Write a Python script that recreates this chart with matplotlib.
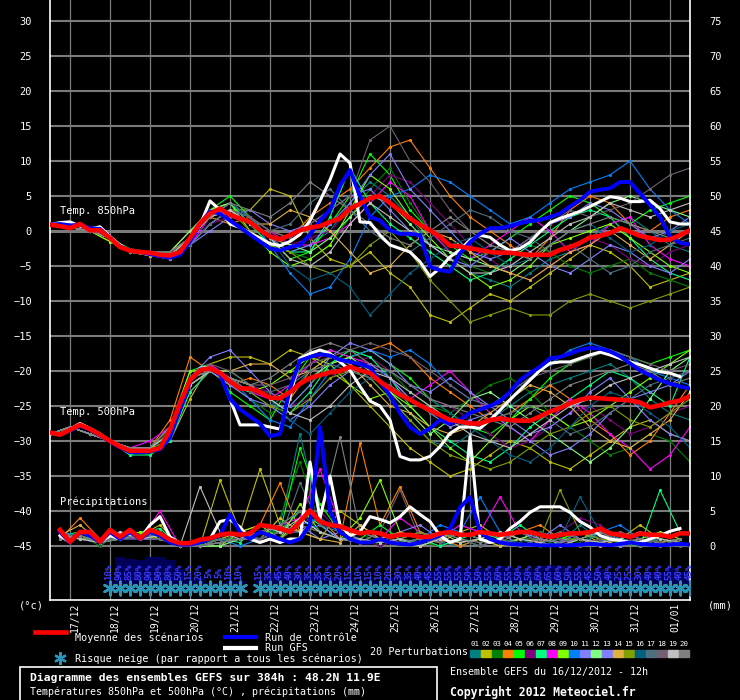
import matplotlib
matplotlib.use('Agg')
import matplotlib.pyplot as plt
from matplotlib.lines import Line2D
from matplotlib.patches import Rectangle
import numpy as np

nan = float('nan')

# ---------------- data ----------------
dates = ['17/12', '18/12', '19/12', '20/12', '21/12', '22/12', '23/12', '24/12',
         '25/12', '26/12', '27/12', '28/12', '29/12', '30/12', '31/12', '01/01']

member_colors = ['#008080', '#c0c000', '#008000', '#ff8000', '#00ff00', '#800080', '#00ff80',
                 '#ff00ff', '#80ff00', '#0080ff', '#8080ff', '#80ff80', '#8080ff', '#e0b040',
                 '#80a000', '#006080', '#507080', '#706070', '#c0c0c0', '#808080']

# 6-hourly series (0h .. 384h)
mean_850 = [0.9, 0.7, 0.4, 1.0, 0.1, 0.1, -1.0, -2.3, -2.8, -3.0,
            -3.1, -3.4, -3.5, -3.0, -1.0, 1.1, 2.5, 3.2, 2.3, 1.8,
            1.3, 0.1, -0.8, -1.2, -0.6, 0.1, 0.5, 0.7, 1.3, 1.8,
            3.2, 3.9, 4.7, 5.0, 4.0, 2.9, 1.8, 0.9, 0.1, -0.8,
            -2.1, -2.2, -2.5, -2.7, -3.0, -3.1, -3.1, -3.3, -3.4, -3.4,
            -3.4, -2.7, -2.3, -1.7, -0.9, -0.7, -0.3, 0.4, -0.1, -0.7,
            -1.0, -1.3, -1.2, -0.6, 0.1]
gfs_850 = [0.9, 1.2, 1.3, 0.7, 0.3, 0.6, -0.8, -2.0, -2.8, -3.0,
           -3.2, -3.5, -3.6, -3.2, -1.5, 0.8, 4.3, 3.0, 1.0, 0.5,
           -0.3, -1.0, -1.8, -2.1, -1.5, -0.5, 1.5, 4.3, 7.3, 11.0,
           9.7, 1.3, 1.2, -0.6, -2.0, -2.5, -3.0, -4.4, -6.5, -5.3,
           -3.7, -2.7, -1.3, -0.6, -0.9, -2.0, -2.8, -2.5, -1.6, -0.1,
           1.2, 1.8, 2.3, 2.8, 3.5, 4.2, 4.9, 4.7, 4.2, 4.2,
           4.4, 3.2, 1.3, 1.0, 1.0]
ctrl_850 = [0.9, 1.0, 0.8, 0.9, 0.4, 0.3, -1.0, -2.2, -2.8, -3.0,
            -3.3, -3.6, -3.8, -3.4, -1.5, 1.0, 2.8, 2.5, 1.5, 0.5,
            -0.5, -1.5, -2.5, -2.8, -2.3, -2.0, -0.5, 1.5, 3.0, 6.5,
            8.7, 5.0, 2.0, 1.5, 0.1, -0.4, -0.4, -0.6, -5.1, -5.6,
            -5.8, -3.2, -1.6, -0.4, 0.4, 0.4, 0.7, 1.1, 1.4, 1.6,
            2.0, 2.5, 3.5, 4.4, 5.6, 5.9, 6.1, 7.0, 7.0, 5.4,
            3.7, 2.0, -0.8, -1.7, -1.9]

mean_500 = [-28.8, -29.1, -28.4, -27.7, -28.3, -29.1, -30.0, -30.8, -31.4, -31.4,
            -31.4, -31.0, -28.4, -24.6, -21.3, -19.9, -19.6, -20.3, -21.5, -22.5,
            -22.5, -23.0, -23.8, -23.9, -23.0, -21.8, -21.0, -20.6, -20.2, -20.0,
            -19.4, -19.9, -20.3, -21.5, -22.5, -23.4, -24.1, -24.9, -25.6, -26.3,
            -27.0, -27.2, -27.5, -27.5, -27.0, -26.8, -27.0, -27.1, -27.1, -26.5,
            -25.8, -25.3, -24.6, -24.1, -23.8, -23.9, -24.0, -24.1, -24.2, -24.5,
            -25.2, -24.9, -24.5, -24.2, -23.6]
gfs_500 = [-28.8, -29.0, -28.3, -27.5, -28.2, -29.0, -30.0, -30.8, -31.5, -31.5,
           -31.3, -31.0, -29.0, -25.0, -21.5, -19.6, -19.5, -20.5, -24.0, -27.7,
           -27.7, -27.7, -28.0, -28.3, -23.7, -18.2, -17.5, -17.0, -17.5, -18.7,
           -19.9, -22.2, -24.3, -25.0, -27.0, -32.2, -32.7, -32.7, -32.2, -30.8,
           -28.9, -28.0, -28.0, -28.2, -27.0, -25.6, -24.1, -22.7, -21.3, -19.9,
           -18.9, -18.7, -18.7, -18.2, -17.7, -17.3, -17.7, -18.2, -18.7, -19.1,
           -19.6, -20.1, -20.3, -20.8, nan]
ctrl_500 = [-28.8, -29.1, -28.5, -27.8, -28.4, -29.2, -30.1, -30.9, -31.6, -31.6,
            -31.5, -31.2, -29.5, -25.5, -21.5, -19.8, -19.6, -20.5, -24.0, -25.5,
            -26.5, -27.5, -29.3, -29.0, -22.5, -18.5, -18.0, -17.6, -17.8, -18.4,
            -18.7, -19.0, -19.5, -21.5, -23.5, -26.0, -28.0, -29.0, -28.2, -27.0,
            -27.5, -27.0, -26.0, -25.5, -25.0, -24.3, -23.0, -21.3, -20.3, -19.4,
            -18.2, -18.0, -17.5, -17.0, -16.7, -16.8, -17.2, -17.9, -18.9, -19.9,
            -20.6, -21.3, -21.8, -22.2, -22.5]

# precipitation (mm), 6h .. 384h
mean_rr = [2.3, 0.6, 2.0, 2.0, 0.6, 2.3, 1.3, 2.3, 1.1, 2.3,
           1.8, 0.9, 0.4, 0.4, 0.9, 1.1, 1.6, 1.8, 1.6, 1.8,
           3.0, 2.8, 2.5, 2.0, 3.5, 5.1, 3.5, 3.0, 2.8, 2.3,
           1.8, 2.0, 1.8, 1.3, 1.6, 1.6, 1.3, 1.3, 1.8, 2.0,
           1.6, 1.6, 2.0, 1.8, 1.6, 1.8, 2.0, 2.0, 1.6, 1.3,
           1.6, 1.8, 1.8, 2.0, 2.5, 1.8, 1.6, 1.3, 1.8, 1.6,
           1.6, 1.3, 1.8, 1.8]
gfs_rr = [1.5, 0.5, 2.0, 1.5, 0.5, 1.5, 1.0, 2.0, 1.0, 3.0,
          4.2, 1.3, 0.4, 0.3, 0.5, 1.0, 3.5, 3.8, 2.7, 1.0,
          0.5, 1.0, 0.5, 1.0, 1.0, 12.0, 4.0, 10.0, 3.0, 1.5,
          2.0, 4.2, 3.8, 3.3, 4.2, 5.6, 4.5, 3.5, 1.5, 0.5,
          1.0, 15.6, 1.0, 0.5, 1.0, 2.5, 3.5, 4.8, 5.6, 5.6,
          5.6, 4.8, 3.5, 2.7, 1.5, 1.0, 0.8, 0.5, 0.5, 1.0,
          1.5, 2.1, 2.5, nan]
ctrl_rr = [2.0, 0.5, 2.0, 1.5, 0.5, 2.0, 1.0, 2.0, 1.0, 2.0,
           1.5, 0.5, 0.2, 0.2, 0.5, 1.0, 1.5, 4.5, 2.0, 1.0,
           2.0, 1.5, 1.0, 0.5, 1.0, 3.0, 17.0, 5.0, 2.0, 1.0,
           0.5, 0.5, 1.0, 0.5, 0.3, 0.2, 0.5, 1.0, 1.5, 2.5,
           5.5, 7.0, 2.0, 1.0, 0.5, 0.3, 0.2, 0.2, 0.1, 0.1,
           0.1, 0.1, 0.2, 0.3, 0.2, 0.1, 0.3, 0.5, 0.3, 0.2,
           0.1, 0.2, 0.3, 0.2]

# 20 perturbations, 12-hourly (0h .. 384h)
pert_850 = [
    [1, 0.5, 0, -1, -3, -3, -3, -1, 2, 3, 1, -1, -3, -2, 0, 4, 7, 5, 2, -2, -4, -6, -7, -8, -6, -4, -3, -1, 1, 2, 0, -2, -3],
    [1, 0.5, 0, -1.5, -3, -3.5, -4, -2, 1, 3, 3, 6, 5, -1, -4, -5, -3, -6, -8, -12, -13, -11, -9, -10, -8, -6, -4, -2, -3, -5, -8, -7, -6],
    [1, 0.5, 0, -1, -2.5, -3, -3.5, -1, 3, 4, 1, -2, -3, -4, -2, 2, 6, 9, 4, 0, -3, -5, -6, -4, -2, -3, -5, -6, -5, -4, -6, -7, -8],
    [1, 0.5, 0, -1, -3, -3.5, -3, 0, 2, 1, 2, 0, -1, 2, 4, 6, 9, 12, 13, 9, 5, 2, 0, -2, -4, -1, 3, 5, 4, 1, 0, 2, 3],
    [1, 0.5, 0, -1, -3, -3, -3.5, -1, 3, 5, 2, -1, -4, -3, 1, 5, 11, 8, 3, 0, -2, -4, -3, -1, 1, 3, 5, 4, 2, 1, 3, 4, 5],
    [1, 0.5, 0, -1, -3, -3, -3, -2, 1, 2, 1, -1, -2, -1, 0, 3, 5, 8, 7, 4, 1, -2, -4, -6, -7, -5, -3, -1, -2, -4, -5, -3, -2],
    [1, 0.5, 0, -1, -3, -3.5, -3, -1, 2, 4, 1, -2, -3, -3, 2, 9, 4, 1, -1, -3, -5, -7, -6, -4, -2, 0, 2, 3, 2, -1, -4, -6, -7],
    [1, 0.5, 0, -1, -3, -3, -3.5, -2, 2, 4, 2, 0, -2, -2, -1, 1, 4, 7, 5, 0, -3, -4, -2, 0, 2, 0, -3, -2, 1, 2, -2, -4, -5],
    [1, 0.5, 0, -1.5, -3, -3, -3, -1, 3, 4, 0, -3, -5, -4, -2, 3, 8, 6, 2, -1, -4, -6, -8, -7, -5, -2, -1, 0, 1, -1, -3, -5, -6],
    [1, 0.5, 0, -1, -3, -3, -3.5, -2, 1, 3, 2, -2, -6, -9, -8, -4, 2, 5, 6, 8, 7, 5, 3, 1, 2, 4, 6, 7, 8, 10, 6, 3, 1],
    [1, 0.5, 0, -1, -3, -3.5, -4, -2, 1, 3, 1, -1, -3, -2, 1, 4, 8, 11, 6, 3, 0, -3, -4, -3, -1, 1, 2, 4, 3, 1, -1, 0, 2],
    [1, 0.5, 0, -1, -3, -3, -3, 0, 3, 4, 2, -1, -2, -3, -1, 2, 5, 4, 1, -2, -3, -4, -5, -6, -4, -2, 0, 2, 4, 5, 4, 3, 2],
    [1, 0.5, 0, -1, -3, -3, -4, -2, 0, 2, 3, 1, 0, 1, 3, 5, 6, 3, 0, -2, -4, -5, -3, -1, -3, -5, -6, -4, -2, -3, -5, -6, -4],
    [1, 0.5, 0, -1, -3, -3.5, -3.5, -1, 2, 3, 1, 1, 3, 2, 0, -3, -6, -5, -2, 0, -1, -3, -5, -6, -7, -5, -3, -2, 0, -2, -4, -2, 0],
    [1, 0.5, 0, -1, -3, -3, -3.5, -1, 2, 3, 0, -2, -3, -5, -6, -5, -2, 0, -3, -7, -10, -13, -12, -11, -12, -12, -10, -9, -10, -11, -10, -9, -8],
    [1, 0.5, 0, -1, -3, -3, -3, -1, 2, 4, 2, -1, -5, -7, -6, -8, -12, -9, -6, -4, -2, -1, -3, -5, -4, -2, 0, 1, -1, -3, -2, 0, 1],
    [1, 0.5, 0, -1, -3, -3, -3.5, -2, 1, 3, 2, 0, 1, 4, 6, 3, 0, -2, -3, -1, 1, 3, 2, 0, -1, -3, -2, -4, -6, -5, -3, -2, -1],
    [1, 0.5, 0, -1, -3, -3, -3, -1, 2, 3, 2, 0, -1, 1, 3, 5, 13, 15, 10, 7, 3, 0, -2, -3, -1, 1, 3, 2, 3, 4, 6, 8, 9],
    [1, 0.5, 0, -1, -3, -3, -3.5, -1, 2, 3, 1, -1, -4, -5, -3, 1, 4, 2, 0, -2, -4, -6, -6, -5, -3, -1, 1, 2, 4, 3, 2, 3, 4],
    [1, 0.5, 0, -1, -3, -3, -3, -1, 2, 4, 3, 2, 4, 7, 5, 3, 1, -1, -2, 0, 2, 0, -2, -3, -4, -2, 0, 1, 2, 1, 0, -1, 0],
]
pert_500 = [
    [-29, -28, -29, -30, -31, -31, -29, -22, -20, -22, -23, -25, -23, -20, -18, -19, -21, -24, -27, -30, -31, -29, -27, -25, -23, -22, -21, -20, -19, -21, -24, -26, -27],
    [-29, -28, -29, -30, -32, -31, -30, -24, -19, -18, -18, -19, -17, -18, -20, -22, -25, -28, -31, -33, -35, -34, -32, -30, -31, -33, -34, -32, -30, -28, -27, -29, -30],
    [-29, -28, -29, -30, -31, -32, -28, -21, -20, -22, -24, -26, -25, -22, -19, -17, -18, -20, -23, -25, -26, -24, -22, -21, -23, -26, -28, -30, -32, -31, -29, -30, -33],
    [-29, -28, -29, -30, -31, -31, -27, -18, -20, -22, -21, -22, -24, -20, -19, -18, -17, -16, -18, -21, -23, -25, -27, -26, -24, -22, -24, -27, -29, -32, -30, -26, -22],
    [-29, -28, -29, -30, -31, -31, -28, -20, -19, -23, -25, -27, -22, -18, -17, -18, -17, -19, -21, -24, -26, -28, -29, -27, -24, -21, -19, -18, -17, -18, -19, -18, -17],
    [-29, -28, -29, -30, -31, -31, -29, -23, -20, -21, -22, -23, -25, -24, -21, -19, -18, -20, -22, -24, -25, -27, -29, -31, -30, -28, -26, -25, -27, -29, -28, -26, -25],
    [-29, -28, -29, -30, -32, -32, -30, -23, -20, -20, -22, -24, -26, -23, -19, -17, -18, -21, -25, -28, -30, -32, -33, -31, -28, -26, -24, -22, -20, -21, -23, -25, -18],
    [-29, -28, -29, -30, -31, -30, -28, -21, -19, -21, -23, -24, -22, -19, -17, -18, -19, -21, -24, -22, -20, -23, -26, -28, -30, -27, -24, -26, -29, -31, -34, -32, -28],
    [-29, -28, -29, -30, -31, -31, -28, -20, -20, -22, -23, -22, -20, -18, -19, -22, -24, -23, -25, -28, -31, -33, -30, -27, -25, -26, -28, -27, -25, -23, -21, -19, -17],
    [-29, -28, -29, -30, -31, -31, -29, -22, -20, -21, -24, -27, -28, -24, -20, -18, -17, -18, -17, -19, -22, -24, -25, -23, -21, -19, -17, -16, -17, -18, -20, -21, -22],
    [-29, -28, -29, -30, -31, -31, -28, -21, -18, -17, -20, -23, -25, -22, -18, -16, -17, -19, -22, -23, -21, -23, -25, -27, -29, -28, -26, -23, -21, -24, -27, -29, -30],
    [-29, -28, -29, -30, -31, -31, -28, -21, -20, -21, -22, -24, -23, -21, -19, -18, -20, -23, -26, -29, -27, -24, -23, -25, -27, -29, -31, -33, -31, -28, -24, -20, -18],
    [-29, -28, -29, -30, -31, -31, -29, -22, -20, -22, -24, -25, -27, -25, -22, -20, -19, -21, -24, -26, -28, -27, -26, -28, -30, -32, -31, -29, -26, -24, -23, -22, -20],
    [-29, -28, -29, -30, -31, -31, -28, -21, -20, -20, -19, -19, -21, -20, -18, -19, -22, -25, -26, -28, -29, -28, -26, -24, -22, -23, -25, -28, -30, -31, -29, -27, -23],
    [-29, -28, -29, -30, -31, -31, -29, -22, -20, -21, -23, -25, -26, -24, -21, -20, -21, -24, -27, -30, -32, -33, -34, -33, -31, -29, -28, -26, -25, -27, -28, -26, -24],
    [-29, -28, -29, -30, -31, -31, -28, -21, -20, -21, -22, -24, -27, -29, -26, -23, -21, -20, -22, -24, -26, -28, -30, -32, -33, -31, -28, -25, -23, -24, -26, -28, -31],
    [-29, -28, -29, -30, -31, -31, -28, -21, -20, -21, -23, -23, -22, -20, -19, -20, -21, -22, -24, -26, -27, -28, -27, -26, -25, -27, -29, -28, -26, -24, -22, -21, -20],
    [-29, -28, -29, -30, -31, -31, -28, -21, -19, -20, -22, -22, -21, -19, -18, -17, -16, -17, -18, -20, -22, -24, -25, -23, -21, -20, -19, -18, -17, -18, -19, -20, -19],
    [-29, -28, -29, -30, -31, -31, -29, -22, -20, -21, -22, -24, -26, -27, -25, -22, -20, -21, -23, -25, -27, -29, -30, -31, -29, -27, -25, -24, -22, -21, -20, -19, -18],
    [-29, -28, -29, -30, -31, -31, -28, -21, -20, -21, -22, -21, -19, -17, -16, -17, -19, -20, -22, -24, -25, -26, -27, -28, -26, -24, -22, -21, -20, -19, -20, -22, -21],
]
# precipitation (mm), 12-hourly from 6h to 378h
pert_rr = [
    [2, 1, 0.5, 1.5, 1, 2, 0, 0, 0.5, 1, 2, 3, 16, 4, 2, 1, 0.5, 1, 2, 0.5, 0, 1, 2, 1, 0, 0.5, 3, 1, 0, 1, 2, 1],
    [1.5, 1, 1, 2, 1.5, 3, 0, 0, 9.4, 2, 11, 3, 2, 1, 5, 3, 1, 0.5, 0, 1, 2, 3, 1, 0, 0.5, 1, 2, 0.5, 1, 3, 1, 0.5],
    [2, 1.5, 0, 2, 1, 1.5, 0, 0, 1, 2, 1, 4, 12, 3, 1, 2, 0, 1, 0.5, 0, 1, 0.5, 2, 1, 0, 1, 0.5, 2, 1, 0, 1, 2],
    [1, 4, 1, 1.5, 1, 2, 0, 0, 0.5, 2, 3, 9, 2, 4, 1, 14.7, 3, 8.5, 2, 1, 0, 1, 0.5, 2, 3, 1, 0, 1, 2, 1, 0.5, 1],
    [1.5, 2, 0.5, 1, 1.5, 2, 0, 0.5, 1, 1, 2, 2, 14, 6, 2, 1, 3, 1, 0.5, 2, 1, 0, 1, 2, 0.5, 1, 2, 1, 0.5, 0, 1, 0.5],
    [2, 1, 1, 2, 1, 1.5, 0, 0, 0, 1, 2, 1, 3, 5, 2, 1, 0, 1, 2, 1, 3, 2, 1, 0, 1, 2, 4, 3, 1, 0.5, 0, 1],
    [1, 1.5, 0.5, 1, 2, 2.5, 0, 0, 1, 0.5, 3, 2, 5, 3, 1, 2, 1, 0.5, 1, 0, 1, 2, 1, 3, 1, 0.5, 1, 2, 1, 0, 8, 2],
    [2, 1, 0.5, 1.5, 1, 5, 0, 0, 0.5, 1, 2, 3, 4, 11, 3, 2, 1, 4, 2, 1, 3, 2, 7, 2, 1, 0.5, 1, 0, 2, 1, 0.5, 1],
    [1.5, 1, 1, 1, 2, 1, 0, 0, 0, 2, 3, 1, 6, 2, 1, 4, 9.4, 2, 1, 2, 0.5, 1, 0, 1, 2, 1, 1, 0.5, 0, 1, 2, 1],
    [2, 1.5, 0.5, 2, 1, 1, 0, 0, 1, 0, 1, 2, 3, 4, 2, 1, 0.5, 2, 1, 3, 2, 7, 2, 1, 0.5, 1, 0, 2, 3, 1, 0.5, 0],
    [1.5, 1, 0.5, 1, 1, 1.5, 0, 0, 0.5, 1, 1, 2, 2, 3, 1, 0.5, 1, 2, 3, 1, 0.5, 1, 2, 0, 1, 3, 1, 0.5, 1, 2, 0, 1],
    [2, 1, 0.5, 1.5, 1.5, 2, 0, 0, 0, 1, 2, 1, 4, 2, 1, 0.5, 2, 1, 0, 1, 2, 1, 0.5, 1, 2, 0, 1, 2, 1, 0.5, 1, 0.5],
    [1, 1.5, 0.5, 2, 1, 1, 0, 0, 0.5, 1, 1, 2, 3, 1, 2, 1, 0.5, 1, 2, 0.5, 1, 0, 1, 2, 1, 0.5, 2, 1, 0, 1, 0.5, 1],
    [1.5, 3, 0.5, 1.5, 1, 2, 0, 0, 1, 2, 1, 4, 2, 1, 0.5, 3, 1, 2, 1, 0.5, 2, 1, 0, 1, 0.5, 2, 1, 0, 1, 2, 1, 0.5],
    [2, 1, 0.5, 1, 1.5, 1, 0, 0, 0.5, 1, 2, 1, 3, 2, 1, 1, 0.5, 1, 2, 1, 0.5, 1, 2, 1, 1, 8, 2, 1, 0.5, 1, 0.5, 1],
    [1.5, 1, 0.5, 1.5, 1, 2, 0, 0, 0.5, 2, 1, 3, 5, 2, 1, 2, 1, 0.5, 1, 2, 1, 0, 1, 0.5, 2, 1, 7, 2, 1, 0.5, 1, 0.5],
    [1, 1.5, 0.5, 1, 1.5, 1.5, 0, 0, 1, 1, 2, 1, 9, 3, 2, 1, 0.5, 1, 0.5, 1, 2, 1, 0.5, 0, 1, 2, 1, 0.5, 1, 0, 1, 0.5],
    [2, 1, 0.5, 1.5, 1, 1, 0, 0, 0.5, 1, 1, 2, 3, 2, 1, 0.5, 2, 8, 1, 0.5, 1, 0, 1, 2, 0.5, 1, 0, 1, 2, 1, 0.5, 0],
    [1.5, 1, 0.5, 2, 1, 1.5, 0, 8.5, 2, 1, 3, 2, 4, 2, 1, 1, 0.5, 1, 0, 1, 0.5, 1, 2, 1, 0.5, 0, 1, 0.5, 1, 2, 1, 0.5],
    [1, 1.5, 0.5, 1, 1.5, 2, 0, 0, 0.5, 1, 2, 3, 5, 4, 15.6, 2, 1, 0.5, 1, 2, 1, 0.5, 1, 0, 1, 0.5, 1, 2, 0.5, 1, 0, 1],
]

# snow risk (% of scenarios), 6-hourly 0h .. 384h
snow_pct = [0, 0, 0, 0, 0, 0,
            10, 90, 85, 80, 90, 90, 80, 50, 15, 20, 5, 5, 10, 10,
            0,
            15, 35, 45, 40, 30, 35, 35, 20, 20, 15, 10, 15, 10, 20, 30, 35, 40, 45, 55, 55,
            55, 50, 50, 55, 60, 55, 50, 50, 60, 65, 60, 50, 55, 45, 50, 40, 25, 25, 30, 40,
            40, 55, 40, 45]

# ---------------- figure ----------------
W, H = 740, 700
fig = plt.figure(figsize=(W / 100, H / 100), dpi=100, facecolor='black')
ax = fig.add_axes([50 / W, 1 - 600 / H, 640 / W, 600 / H], facecolor='black')

MONO = 'DejaVu Sans Mono'
FLAKE = '#2b93b8'
FLAKE_MARK = (6, 2, 0)   # six-armed asterisk used as snowflake


def fx(px):
    return px / W


def fy(py):
    return 1 - py / H


def ty(py):
    # pixel row -> temperature value on the left axis
    return (231 - py) / 7.0


h6 = np.arange(0, 385, 6)
h12 = np.arange(0, 385, 12)
hr6 = np.arange(6, 385, 6)
hr12 = np.arange(6, 379, 12)

ax.set_xlim(0, 384)
ax.set_ylim(ty(600), ty(0))

# grid
for v in range(-45, 31, 5):
    ax.axhline(v, color='#7a7a7a', lw=2.2 if v == 0 else 1.5, zorder=1)
for k in range(16):
    ax.axvline(12 + 24 * k, color='#7a7a7a', lw=0.9, zorder=1)

# perturbations
for vals, c in zip(pert_850, member_colors):
    ax.plot(h12, vals, color=c, lw=0.8, marker='.', ms=2.5, zorder=2)
for vals, c in zip(pert_500, member_colors):
    ax.plot(h12, vals, color=c, lw=0.8, marker='.', ms=2.5, zorder=2)
for vals, c in zip(pert_rr, member_colors):
    ax.plot(hr12, np.array(vals) - 45, color=c, lw=0.8, marker='.', ms=2.5, zorder=2)

# GFS, control, mean
ax.plot(h6, gfs_850, color='white', lw=2.2, zorder=3)
ax.plot(h6, gfs_500, color='white', lw=2.2, zorder=3)
ax.plot(hr6, np.array(gfs_rr) - 45, color='white', lw=2.2, zorder=3)
ax.plot(h6, ctrl_850, color='#0000ff', lw=2.8, zorder=4)
ax.plot(h6, ctrl_500, color='#0000ff', lw=2.8, zorder=4)
ax.plot(hr6, np.array(ctrl_rr) - 45, color='#0000ff', lw=2.8, zorder=4)
ax.plot(h6, mean_850, color='#ff0000', lw=3.3, zorder=5)
ax.plot(h6, mean_500, color='#ff0000', lw=3.3, zorder=5)
ax.plot(hr6, np.array(mean_rr) - 45, color='#ff0000', lw=3.3, zorder=5)

# snow risk
snow = np.array(snow_pct)
has = snow > 0
ax.bar(h6[has], snow[has] * 0.3 / 7.0, bottom=ty(584), width=6, color='#000058',
       edgecolor='none', zorder=2)
ax.scatter(h6[has], np.full(has.sum(), ty(588)), marker=FLAKE_MARK, s=95,
           color=FLAKE, linewidths=1.8, zorder=3)
for h, p in zip(h6[has], snow[has]):
    ax.text(h - 0.6, ty(572), f'{p}%', rotation=90, ha='center', va='center',
            color='#3a3aff', fontsize=6.6, family=MONO, weight='bold', zorder=3)

# labels inside plot
for txt, py in [('Temp. 850hPa', 211), ('Temp. 500hPa', 412), ('Précipitations', 502)]:
    ax.text(6, ty(py), txt, color='white', fontsize=7.5, family=MONO,
            ha='left', va='center', zorder=6)

# axes styling
for s in ['left', 'right', 'bottom']:
    ax.spines[s].set_color('white')
    ax.spines[s].set_linewidth(1.2)
ax.spines['top'].set_visible(False)

ax.set_yticks(range(-45, 31, 5))
ax.tick_params(axis='y', length=0, pad=13, labelcolor='white', labelsize=7.5)
for lab in ax.get_yticklabels():
    lab.set_family(MONO)
ax.set_xticks(12 + 24 * np.arange(16) + 3, dates)
ax.tick_params(axis='x', length=0, pad=2, labelcolor='white', labelsize=7,
               labelrotation=90)
for lab in ax.get_xticklabels():
    lab.set_family(MONO)

sec = ax.secondary_yaxis('right', functions=(lambda y: y + 45, lambda y: y - 45))
sec.set_yticks(range(0, 76, 5))
sec.tick_params(length=0, pad=14, labelcolor='white', labelsize=7.5)
sec.spines['right'].set_visible(False)
for lab in sec.get_yticklabels():
    lab.set_family(MONO)

fig.text(fx(31), fy(606), '(°c)', color='white', fontsize=7.5, family=MONO,
         ha='center', va='center')
fig.text(fx(720), fy(606), '(mm)', color='white', fontsize=7.5, family=MONO,
         ha='center', va='center')

# legend
fig.add_artist(Line2D([fx(35), fx(66)], [fy(632), fy(632)], color='#ff0000', lw=3.3))
fig.text(fx(75), fy(638), 'Moyenne des scénarios', color='white', fontsize=7.3,
         family=MONO, va='center')
fig.add_artist(Line2D([fx(225), fx(256)], [fy(637), fy(637)], color='#0000ff', lw=3))
fig.text(fx(265), fy(638), 'Run de contrôle', color='white', fontsize=7.3,
         family=MONO, va='center')
fig.add_artist(Line2D([fx(225), fx(256)], [fy(648), fy(648)], color='white', lw=3))
fig.text(fx(265), fy(648), 'Run GFS', color='white', fontsize=7.3, family=MONO,
         va='center')
fig.add_artist(Line2D([fx(60)], [fy(658)], marker=FLAKE_MARK, ms=9, mew=1.6,
                      color=FLAKE, linestyle='none'))
fig.text(fx(75), fy(659), 'Risque neige (par rapport a tous les scénarios)',
         color='white', fontsize=7.3, family=MONO, va='center')
fig.text(fx(370), fy(652), '20 Perturbations', color='white', fontsize=7.3,
         family=MONO, va='center')
for i, c in enumerate(member_colors):
    x0 = 470 + 11 * i
    fig.add_artist(Rectangle((fx(x0), fy(657)), 10 / W, 7 / H, color=c,
                             transform=fig.transFigure))
    fig.text(fx(x0 + 5), fy(644), f'{i + 1:02d}', color='white', fontsize=5.3,
             family=MONO, ha='center', va='center')

fig.add_artist(Rectangle((fx(20), fy(702)), 417 / W, 35 / H, fill=False,
                         edgecolor='white', lw=1.2, transform=fig.transFigure))
fig.text(fx(30), fy(678), 'Diagramme des ensembles GEFS sur 384h : 48.2N 11.9E',
         color='white', fontsize=8.2, family=MONO, weight='bold', va='center')
fig.text(fx(30), fy(692), 'Températures 850hPa et 500hPa (°C) , précipitations (mm)',
         color='white', fontsize=7.2, family=MONO, va='center')
fig.text(fx(450), fy(672), 'Ensemble GEFS du 16/12/2012 - 12h', color='white',
         fontsize=7.2, family=MONO, va='center')
fig.text(fx(450), fy(692), 'Copyright 2012 Meteociel.fr', color='white',
         fontsize=8.3, family=MONO, weight='bold', va='center')

fig.savefig('out.png', dpi=100, facecolor='black')
